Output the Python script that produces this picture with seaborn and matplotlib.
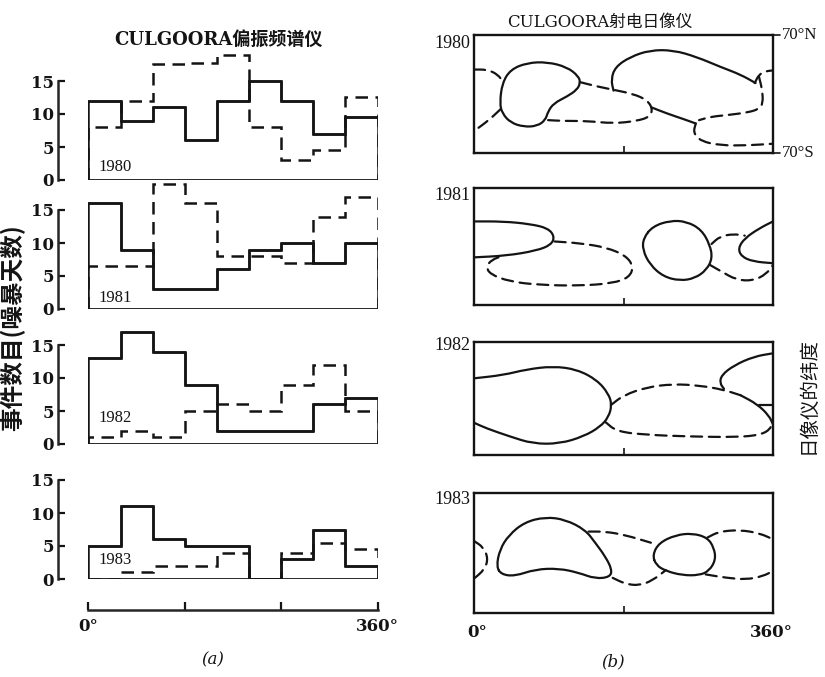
import numpy as np
import matplotlib
matplotlib.use("Agg")
import matplotlib.pyplot as plt
from matplotlib.path import Path
from matplotlib.patches import PathPatch
import seaborn as sns

# ---------------- data ----------------
years = ["1980", "1981", "1982", "1983"]
lon_edges = [0, 40, 80, 120, 160, 200, 240, 280, 320, 360]

# polarisation spectrograph: event counts per 40-degree longitude bin
solid_1980 = [12, 9, 11, 6, 12, 15, 12, 7, 9.5]
dashed_1980 = [8, 12, 17.5, 17.7, 19, 8, 3, 4.5, 12.5]
solid_1981 = [16, 9, 3, 3, 6, 9, 10, 7, 10]
dashed_1981 = [6.5, 6.5, 19, 16, 8, 8, 7, 14, 17]
solid_1982 = [13, 17, 14, 9, 2, 2, 2, 6, 7]
dashed_1982 = [1, 2, 1, 5, 6, 5, 9, 12, 5]
solid_1983 = [5, 11, 6, 5, 5, 0, 3, 7.5, 2]
dashed_1983 = [0, 1, 2, 2, 4, 0, 4, 5.5, 4.5]

solid_counts = [solid_1980, solid_1981, solid_1982, solid_1983]
dashed_counts = [dashed_1980, dashed_1981, dashed_1982, dashed_1983]
year_label_y = [2.0, 1.7, 3.9, 2.9]

# radioheliograph: outlines of the source regions (longitude, latitude)
# each entry: (line style, closed outline?, points)
regions_1980 = [
    ("-", True, [(34, 13), (44, 29), (64, 37), (88, 38), (112, 32), (126, 21), (128, 13),
                 (124, 5), (112, -3), (96, -11), (89, -21), (86, -31), (76, -38), (60, -39),
                 (44, -34), (34, -23), (31, -11)]),
    ("--", False, [(0, 29), (16, 29), (29, 23), (35, 14)]),
    ("--", False, [(32, -18), (18, -31), (0, -44)]),
    ("--", False, [(128, 14), (148, 9), (168, 5), (192, 0), (208, -7), (215, -17), (212, -27),
                   (196, -32), (168, -35), (136, -32), (108, -32), (89, -31)]),
    ("-", False, [(168, 4), (165, 17), (170, 32), (188, 44), (212, 52), (240, 52), (268, 44),
                  (297, 32), (321, 23), (339, 13)]),
    ("--", False, [(338, 13), (343, 23), (351, 27), (360, 28)]),
    ("--", False, [(343, 21), (347, 5), (348, -11), (343, -18), (329, -22), (305, -25),
                   (285, -27), (271, -31)]),
    ("--", False, [(267, -35), (264, -46), (273, -56), (297, -61), (329, -61), (360, -59)]),
    ("-", False, [(214, -16), (232, -23), (253, -30), (267, -35)]),
]

regions_1981 = [
    ("-", False, [(0, 30), (35, 30), (67, 27), (89, 22), (97, 12), (93, 2), (75, -5),
                  (39, -11), (0, -13)]),
    ("--", False, [(97, 6), (127, 4), (159, -1), (183, -11), (192, -24), (187, -37), (167, -44),
                   (127, -47), (79, -46), (43, -42), (19, -33), (15, -24), (21, -16), (35, -11)]),
    ("-", True, [(215, 24), (236, 31), (256, 30), (274, 20), (284, 2), (287, -14), (280, -28),
                 (266, -38), (248, -41), (228, -36), (212, -22), (203, -4), (204, 10)]),
    ("--", False, [(286, 3), (296, 12), (312, 15), (326, 13)]),
    ("--", False, [(284, -22), (298, -30), (316, -40), (336, -41), (352, -33), (360, -22)]),
    ("-", False, [(360, 30), (344, 22), (326, 10), (318, -2), (322, -12), (336, -18), (360, -20)]),
]

regions_1982 = [
    ("-", False, [(0, 25), (35, 29), (63, 36), (95, 40), (124, 36), (148, 23), (162, 6),
                  (166, -8), (162, -23), (152, -35), (132, -47), (103, -56), (71, -56),
                  (43, -47), (15, -37), (0, -30)]),
    ("--", False, [(165, -8), (180, 4), (208, 14), (240, 18), (272, 16), (300, 11), (321, 4)]),
    ("-", False, [(321, 4), (341, -7), (355, -21), (360, -32)]),
    ("--", False, [(158, -29), (172, -41), (208, -45), (256, -47), (317, -48), (345, -45),
                   (357, -38), (360, -27)]),
    ("-", False, [(360, 56), (337, 52), (313, 41), (298, 29), (296, 19), (301, 12)]),
    ("-", False, [(343, -8), (360, -8)]),
]

regions_1983 = [
    ("--", False, [(0, 14), (11, 7), (17, -6), (13, -19), (0, -30)]),
    ("-", True, [(27, -16), (31, 4), (42, 21), (61, 36), (86, 42), (110, 39), (134, 27),
                 (146, 12), (158, -4), (166, -19), (164, -28), (146, -30), (126, -23),
                 (102, -18), (74, -19), (49, -27), (33, -25)]),
    ("--", False, [(138, 25), (158, 25), (182, 21), (213, 12)]),
    ("--", False, [(167, -29), (182, -36), (199, -38), (215, -32), (231, -20)]),
    ("-", True, [(215, -2), (223, 12), (243, 21), (263, 23), (281, 18), (289, 6), (291, -8),
                 (283, -21), (271, -26), (251, -26), (231, -21), (219, -14)]),
    ("--", False, [(281, 18), (295, 25), (320, 27), (344, 23), (360, 16)]),
    ("--", False, [(279, -25), (304, -29), (328, -31), (348, -27), (360, -21)]),
]
regions = [regions_1980, regions_1981, regions_1982, regions_1983]

# ---------------- style ----------------
sns.set_theme(style="ticks")
serif = ["DejaVu Serif", "Noto Sans CJK SC"]
cjk = ["Noto Sans CJK SC", "DejaVu Serif"]
plt.rcParams["font.family"] = serif
plt.rcParams["axes.linewidth"] = 1.6
INK = "#141414"
DASH = (0, (5, 3))


def smooth_path(pts, closed):
    """Quadratic-Bezier outline through the midpoints of the given vertices."""
    p = np.asarray(pts, float)
    verts, codes = [], []
    if closed:
        mids = (p + np.roll(p, -1, axis=0)) / 2
        verts.append(mids[-1]); codes.append(Path.MOVETO)
        for i in range(len(p)):
            verts += [p[i], mids[i]]; codes += [Path.CURVE3, Path.CURVE3]
    else:
        verts.append(p[0]); codes.append(Path.MOVETO)
        if len(p) > 2:
            mids = (p[:-1] + p[1:]) / 2
            verts.append(mids[0]); codes.append(Path.LINETO)
            for i in range(1, len(p) - 1):
                verts += [p[i], mids[i]]; codes += [Path.CURVE3, Path.CURVE3]
        verts.append(p[-1]); codes.append(Path.LINETO)
    return Path(verts, codes)


W, H = 825, 677
fig = plt.figure(figsize=(W / 100, H / 100), dpi=100)
fig.patch.set_facecolor("white")

# ---------------- (a) histograms ----------------
left_zero_px = [180, 309, 444, 579]
centers = [(a + b) / 2 for a, b in zip(lon_edges[:-1], lon_edges[1:])]
for k, yr in enumerate(years):
    ax = fig.add_axes([88 / W, (H - left_zero_px[k]) / H, 290 / W, 132 / H])
    # solid series: seaborn step histogram weighted by the counts
    sns.histplot(x=centers, weights=solid_counts[k], bins=lon_edges, element="step",
                 fill=False, color=INK, linewidth=1.8, ax=ax)
    # step outlines closed down to the baseline at both ends
    ax.stairs(solid_counts[k], lon_edges, baseline=0, color=INK, linewidth=1.8)
    ax.stairs(dashed_counts[k], lon_edges, baseline=0, color=INK, linewidth=1.8,
              linestyle=DASH)
    ax.hlines(0, lon_edges[0], lon_edges[-1], color=INK, linewidth=2.0)
    ax.set_xlim(lon_edges[0] - 0.5, lon_edges[-1] + 0.5)
    ax.set_ylim(0, 20)
    ax.set_xlabel("")
    ax.set_ylabel("")
    ax.set_facecolor("none")
    for s in ("top", "right"):
        ax.spines[s].set_visible(False)
    ax.spines["left"].set_position(("outward", 21.6))
    ax.spines["left"].set_bounds(0, 15)
    ax.spines["left"].set_linewidth(1.8)
    ax.set_yticks([0, 5, 10, 15])
    ax.tick_params(axis="y", direction="in", length=5, width=1.6, pad=3,
                   labelsize=12, colors=INK)
    for lab in ax.get_yticklabels():
        lab.set_fontweight("bold")
    if k < 3:
        ax.spines["bottom"].set_visible(False)
        ax.set_xticks([])
    else:
        ax.spines["bottom"].set_position(("outward", 22.3))
        ax.spines["bottom"].set_bounds(0, 360)
        ax.spines["bottom"].set_linewidth(1.8)
        ax.set_xticks([0, 120, 240, 360])
        ax.set_xticklabels(["0°", "", "", "360°"])
        ax.tick_params(axis="x", direction="in", length=6, width=1.6, pad=6,
                       labelsize=12, colors=INK)
        for lab in ax.get_xticklabels():
            lab.set_fontweight("bold")
    ax.text(13, year_label_y[k], yr, fontsize=12, ha="left", va="center", color=INK,
            family=["Liberation Serif", "DejaVu Serif"])

# ---------------- (b) heliograph maps ----------------
right_boxes = [(35, 153), (188, 305), (342, 455), (493, 613)]
label_dy = [8, 7, 4, 6]
for k, yr in enumerate(years):
    top, bot = right_boxes[k]
    ax = fig.add_axes([474 / W, (H - bot) / H, 299 / W, (bot - top) / H])
    ax.set_xlim(0, 360)
    ax.set_ylim(-70, 70)
    ax.set_facecolor("white")
    for s in ax.spines.values():
        s.set_linewidth(1.7)
        s.set_color(INK)
    ax.set_xticks([180])
    ax.set_xticklabels([""])
    ax.set_yticks([])
    ax.tick_params(axis="x", direction="in", length=5, width=1.2, colors=INK)
    for ls, closed, pts in regions[k]:
        ax.add_patch(PathPatch(smooth_path(pts, closed), fill=False, edgecolor=INK,
                               linewidth=1.6, linestyle=DASH if ls == "--" else "-",
                               capstyle="round", joinstyle="round"))
    ax.text(-0.012, 1 - label_dy[k] / (bot - top), yr, transform=ax.transAxes,
            ha="right", va="center", fontsize=13, color=INK,
            family=["Liberation Serif", "DejaVu Serif"])
    if k == 0:
        for yy, lab in ((1, "70°N"), (0, "70°S")):
            ax.plot([1, 1.025], [yy, yy], transform=ax.transAxes, color=INK,
                    lw=1.2, clip_on=False)
            ax.text(1.03, yy, lab, transform=ax.transAxes, ha="left", va="center",
                    fontsize=12, color=INK, family=["Liberation Serif", "DejaVu Serif"])
    if k == 3:
        ax.text(0.01, -0.16, "0°", transform=ax.transAxes, ha="center", va="center",
                fontsize=12, fontweight="bold", color=INK)
        ax.text(0.995, -0.16, "360°", transform=ax.transAxes, ha="center", va="center",
                fontsize=12, fontweight="bold", color=INK)

# ---------------- titles and labels ----------------
fig.text(218 / W, (H - 40) / H, "CULGOORA偏振频谱仪", ha="center", va="center",
         fontsize=13, fontweight="bold", color=INK, family=serif)
fig.text(600 / W, (H - 22) / H, "CULGOORA射电日像仪", ha="center", va="center",
         fontsize=12, color=INK, family=serif)
fig.text(13 / W, (H - 328) / H, "事件数目(噪暴天数)", rotation=90, ha="center", va="center",
         fontsize=17, fontweight="bold", color=INK, family=cjk)
fig.text(808 / W, (H - 395) / H, "日像仪的纬度", rotation=90, ha="center", va="center",
         fontsize=14, color=INK, family=cjk)
fig.text(213 / W, (H - 660) / H, "(a)", ha="center", va="center", fontsize=12,
         style="italic", color=INK)
fig.text(613 / W, (H - 662) / H, "(b)", ha="center", va="center", fontsize=12,
         style="italic", color=INK)

fig.savefig("out.png", dpi=100, facecolor="white")
